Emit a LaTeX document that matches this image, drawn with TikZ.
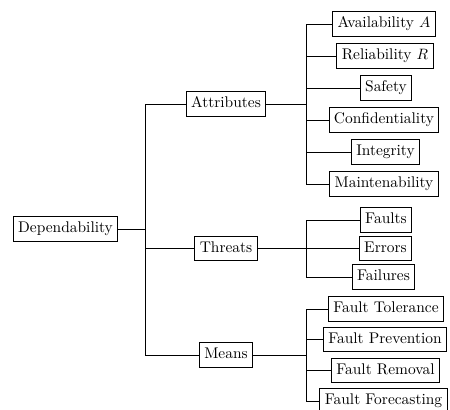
\documentclass[tikz,border=0pt]{standalone}
\begin{document}
\begin{tikzpicture}[x=0.6667pt,y=-0.6667pt,
  box/.style={draw,line width=0.65pt,inner xsep=3.3pt,inner ysep=3.6pt,text height=7.1pt,text depth=2pt,font=\fontsize{10.3}{12}\selectfont},
  link/.style={line width=0.65pt}]
\useasboundingbox (0,0) rectangle (450,410);
% root
\node[box] (dep) at (65.5,229) {Dependability};
% level 2
\node[box] (att) at (226,104) {Attributes};
\node[box] (thr) at (226,248.5) {Threats};
\node[box] (mea) at (226,355) {Means};
% attributes
\node[box] (av) at (384,24) {Availability $A$};
\node[box] (re) at (385,56) {Reliability $R$};
\node[box] (sa) at (386,88) {Safety};
\node[box] (co) at (384,120) {Confidentiality};
\node[box] (in) at (385.5,152) {Integrity};
\node[box] (ma) at (384,184) {Maintenability};
% threats
\node[box] (fa) at (386,220) {Faults};
\node[box] (er) at (385.5,248.5) {Errors};
\node[box] (fl) at (383.5,277) {Failures};
% means
\node[box] (ft) at (386,309) {Fault Tolerance};
\node[box] (fp) at (385,339.7) {Fault Prevention};
\node[box] (fr) at (385.5,370.3) {Fault Removal};
\node[box] (ff) at (383.5,401) {Fault Forecasting};
% bus coordinates
\coordinate (b0) at (145,229);
\coordinate (b1) at (306,104);
\coordinate (b2) at (306,248.5);
\coordinate (b3) at (306,355);
% connectors
\draw[link] (dep.east) -- (b0);
\foreach \c in {att,thr,mea} \draw[link] (b0) |- (\c.west);
\draw[link] (att.east) -- (b1);
\foreach \c in {av,re,sa,co,in,ma} \draw[link] (b1) |- (\c.west);
\draw[link] (thr.east) -- (b2);
\foreach \c in {fa,er,fl} \draw[link] (b2) |- (\c.west);
\draw[link] (mea.east) -- (b3);
\foreach \c in {ft,fp,fr,ff} \draw[link] (b3) |- (\c.west);
\end{tikzpicture}
\end{document}
